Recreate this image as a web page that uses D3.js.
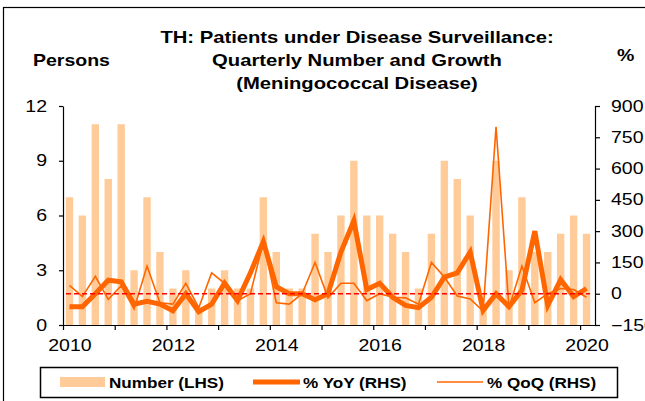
<!DOCTYPE html>
<html><head><meta charset="utf-8">
<script src="https://cdn.jsdelivr.net/npm/d3@7"></script>
<style>html,body{margin:0;padding:0;background:#fff;}svg{display:block;font-family:"Liberation Sans",Arial,sans-serif;}</style>
</head><body>
<svg id="chart" width="645" height="401"></svg>
<script>
const quarters = ["2010Q1","2010Q2","2010Q3","2010Q4","2011Q1","2011Q2","2011Q3","2011Q4",
"2012Q1","2012Q2","2012Q3","2012Q4","2013Q1","2013Q2","2013Q3","2013Q4",
"2014Q1","2014Q2","2014Q3","2014Q4","2015Q1","2015Q2","2015Q3","2015Q4",
"2016Q1","2016Q2","2016Q3","2016Q4","2017Q1","2017Q2","2017Q3","2017Q4",
"2018Q1","2018Q2","2018Q3","2018Q4","2019Q1","2019Q2","2019Q3","2019Q4","2020Q1"];
const number = [7,6,11,8, 11,3,7,4, 2,3,1,2, 3,2,2,7, 4,2,2,5, 4,6,9,6, 6,5,4,2, 5,9,8,6, 1,9,3,7, 4,4,5,6, 5];
const yoy = [-62,-62,0,65, 57,-50,-36,-50, -82,0,-86,-50, 50,-33,100,250, 33,0,0,-29, 0,200,350,20, 50,-17,-56,-67, -17,80,100,200, -80,0,-62,17, 300,-56,67,-14, 25];
const qoq = [40,-14,83,-27, 38,-73,133,-43, -50,50,-67,100, 50,-33,0,250, -43,-50,0,150, -20,50,50,-33, 0,-17,-20,-50, 150,80,-11,-25, -83,800,-67,133, -43,0,25,20, -17];
const leftTicks = [0,3,6,9,12];
const rightTicks = [-150,0,150,300,450,600,750,900];
const yearTicks = [2010,2011,2012,2013,2014,2015,2016,2017,2018,2019,2020];
const titleLines = ["TH: Patients under Disease Surveillance:","Quarterly Number and Growth","(Meningococcal Disease)"];
const legendItems = ["Number (LHS)","% YoY (RHS)","% QoQ (RHS)"];

const SX = 1.22;
const svg = d3.select("#chart");
svg.append("rect").attr("x",0).attr("y",0).attr("width",645).attr("height",401).attr("fill","#fff");
// frame
svg.append("rect").attr("x",3.5).attr("y",7.5).attr("width",700).attr("height",500)
  .attr("fill","none").attr("stroke","#000").attr("stroke-width",1.2);

const L = 63, R = 595, T = 106, B = 325;
const tOf = q => +q.slice(0,4) + (+q.slice(5)-0.5)/4;
const x = d3.scaleLinear().domain([2010, 2020.25]).range([L, 593]);
const yL = d3.scaleLinear().domain([0,12]).range([B,T]);
const yR = d3.scaleLinear().domain([-150,900]).range([B,T]);

function stretch(sel, dx){
  sel.each(function(){
    const t = d3.select(this);
    const xx = (+t.attr("x")||0) + (dx||0), yy = +t.attr("y")||0;
    t.attr("transform",`translate(${xx},${yy}) scale(${SX},1)`).attr("x",0).attr("y",0);
  });
}
function label(g, px, py, str, size, weight, anchor, sx){
  return g.append("text").attr("transform",`translate(${px},${py}) scale(${sx||SX},1)`)
    .attr("font-size",size).attr("font-weight",weight).attr("text-anchor",anchor)
    .attr("fill","#000").text(str);
}

// bars
const bw = 7.4;
svg.append("g").selectAll("rect").data(quarters).join("rect")
  .attr("x",(q)=>x(tOf(q))-bw/2).attr("width",bw)
  .attr("y",(q,i)=>yL(number[i])).attr("height",(q,i)=>yL(0)-yL(number[i]))
  .attr("fill","#FFCC99");

// lines
const line = arr => d3.line().x((q)=>x(tOf(q))).y((q,i)=>yR(arr[i]));
svg.append("path").datum(quarters).attr("d",line(yoy)).attr("fill","none")
  .attr("stroke","#FF6600").attr("stroke-width",5).attr("stroke-linejoin","miter");
svg.append("path").datum(quarters).attr("d",line(qoq)).attr("fill","none")
  .attr("stroke","#FF6600").attr("stroke-width",1.6);
// zero reference dashed
svg.append("line").attr("x1",x(tOf(quarters[0]))-3.5).attr("x2",x(tOf(quarters[quarters.length-1]))+3.5)
  .attr("y1",yR(0)).attr("y2",yR(0)).attr("stroke","#FF0000").attr("stroke-width",1.5)
  .attr("stroke-dasharray","5,3");

// axes
const fs = 16;
const gl = svg.append("g").attr("transform",`translate(${L},0)`)
  .call(d3.axisLeft(yL).tickValues(leftTicks).tickSize(4).tickPadding(12).tickSizeOuter(0));
const gr = svg.append("g").attr("transform",`translate(${R},0)`)
  .call(d3.axisRight(yR).tickValues(rightTicks).tickSize(5).tickPadding(11).tickSizeOuter(0));
const gb = svg.append("g").attr("transform",`translate(0,${B})`)
  .call(d3.axisBottom(x).tickValues(yearTicks).tickSize(5).tickPadding(10).tickSizeOuter(0)
    .tickFormat(d => d%2===0 ? String(d) : ""));
gb.select(".domain").attr("d",`M${L},0.5H${R}`);
const labelShift = x(2010.125) - x(2010);
[gl,gr,gb].forEach(g=>{
  g.selectAll("path,line").attr("stroke","#000").attr("stroke-width",1.2);
  g.selectAll("text").attr("font-size",fs).attr("fill","#000").attr("font-family","Liberation Sans, Arial, sans-serif");
  stretch(g.selectAll("text"), g===gb ? labelShift : 0);
});

// titles
const tg = svg.append("g");
titleLines.forEach((s,i)=>label(tg, 357, 43+i*23, s, 17, "bold", "middle", 1.19));
label(tg, 33, 66, "Persons", 16, "bold", "start");
label(tg, 617, 61, "%", 16, "bold", "start");

// legend
const lg = svg.append("g");
lg.append("rect").attr("x",40.5).attr("y",367.5).attr("width",577).attr("height",30)
  .attr("fill","#fff").attr("stroke","#000").attr("stroke-width",1.5);
lg.append("rect").attr("x",60).attr("y",377).attr("width",45).attr("height",10).attr("fill","#FFCC99");
lg.append("line").attr("x1",253).attr("x2",300).attr("y1",382).attr("y2",382).attr("stroke","#FF6600").attr("stroke-width",5);
lg.append("line").attr("x1",437).attr("x2",483).attr("y1",382).attr("y2",382).attr("stroke","#FF6600").attr("stroke-width",1.6);
[109,303,487].forEach((px,i)=>label(lg, px, 388, legendItems[i], 14.5, "bold", "start", 1.18));
</script>
</body></html>
